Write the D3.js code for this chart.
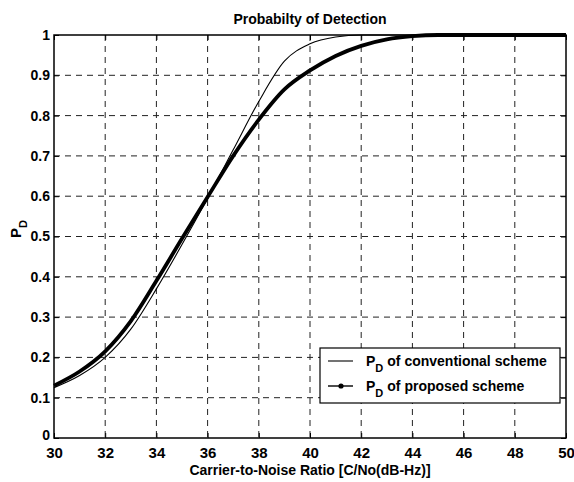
<!DOCTYPE html>
<html>
<head>
<meta charset="utf-8">
<script src="https://cdn.jsdelivr.net/npm/d3@7"></script>
<style>
  html, body { margin: 0; padding: 0; background: #fff; }
  svg { display: block; font-family: "Liberation Sans", Arial, sans-serif; }
</style>
</head>
<body>
<svg id="chart" width="574" height="482"></svg>
<script>
// Carrier-to-noise ratio samples (dB-Hz)
const cnr = [30, 31, 32, 33, 34, 35, 36, 37, 38, 39, 40, 41, 42, 43, 44, 45, 46, 47, 48, 49, 50];
// Detection probability, conventional scheme
const pdConventional = [0.125, 0.155, 0.2, 0.27, 0.37, 0.48, 0.595, 0.715, 0.835, 0.935, 0.978, 0.995, 1, 1, 1, 1, 1, 1, 1, 1, 1];
// Detection probability, proposed scheme
const pdProposed = [0.13, 0.165, 0.215, 0.29, 0.39, 0.495, 0.598, 0.7, 0.79, 0.865, 0.912, 0.948, 0.973, 0.989, 0.997, 1, 1, 1, 1, 1, 1];

const xTicks = [30, 32, 34, 36, 38, 40, 42, 44, 46, 48, 50];
const yTicks = [0, 0.1, 0.2, 0.3, 0.4, 0.5, 0.6, 0.7, 0.8, 0.9, 1];

const titleText = "Probabilty of Detection";
const xLabelText = "Carrier-to-Noise Ratio [C/No(dB-Hz)]";
const legendTexts = ["of conventional scheme", "of proposed scheme"];

(function draw() {
  const svg = d3.select("#chart");
  const pl = 54, pr = 566, pt = 35, pb = 438;
  const face = "'Liberation Sans', Arial, sans-serif";

  const x = d3.scaleLinear().domain([30, 50]).range([pl, pr]);
  const y = d3.scaleLinear().domain([0, 1]).range([pb, pt]);

  // dashed grid
  const grid = svg.append("g").attr("stroke", "#222").attr("stroke-width", 1)
    .attr("stroke-dasharray", "6,5");
  grid.selectAll("line.gx").data(xTicks.slice(1, -1)).join("line").attr("class", "gx")
    .attr("x1", d => x(d)).attr("x2", d => x(d))
    .attr("y1", pt).attr("y2", pb);
  grid.selectAll("line.gy").data(yTicks.slice(1, -1)).join("line").attr("class", "gy")
    .attr("x1", pl).attr("x2", pr)
    .attr("y1", d => y(d)).attr("y2", d => y(d));

  // axes with inward ticks
  const tickLen = 5;
  const xAxis = d3.axisBottom(x).tickValues(xTicks).tickSizeInner(-tickLen).tickSizeOuter(0).tickPadding(9).tickFormat(d3.format("d"));
  const yAxis = d3.axisLeft(y).tickValues(yTicks).tickSizeInner(-tickLen).tickSizeOuter(0).tickPadding(4).tickFormat(d => d === 0 || d === 1 ? String(d) : d3.format(".1f")(d));
  const xTop = d3.axisTop(x).tickValues(xTicks).tickSizeInner(-tickLen).tickSizeOuter(0).tickFormat("");
  const yRight = d3.axisRight(y).tickValues(yTicks).tickSizeInner(-tickLen).tickSizeOuter(0).tickFormat("");

  function styleAxis(size) {
    return g => {
      g.select(".domain").remove();
      g.selectAll("line").attr("stroke", "#000");
      g.selectAll("text").style("font", `bold ${size}px ${face}`).attr("fill", "#000");
    };
  }
  svg.append("g").attr("transform", `translate(0,${pb})`).call(xAxis).call(styleAxis(15));
  const yG = svg.append("g").attr("transform", `translate(${pl},0)`).call(yAxis).call(styleAxis(14));
  // lift the "0" label a little so it clears the first x label
  yG.selectAll(".tick").filter(d => d === 0).select("text").attr("y", -3);
  svg.append("g").attr("transform", `translate(0,${pt})`).call(xTop).call(styleAxis(14));
  svg.append("g").attr("transform", `translate(${pr},0)`).call(yRight).call(styleAxis(14));

  // curves
  const line = (vals) => d3.line().x((d, i) => x(cnr[i])).y(d => y(d)).curve(d3.curveMonotoneX)(vals);
  svg.append("path").attr("d", line(pdConventional)).attr("fill", "none")
    .attr("stroke", "#000").attr("stroke-width", 1.1);
  svg.append("path").attr("d", line(pdProposed)).attr("fill", "none")
    .attr("stroke", "#000").attr("stroke-width", 3.8).attr("stroke-linejoin", "round");

  // frame
  svg.append("rect").attr("x", pl).attr("y", pt).attr("width", pr - pl).attr("height", pb - pt)
    .attr("fill", "none").attr("stroke", "#000").attr("stroke-width", 1.5);

  // title and axis labels
  svg.append("text").attr("x", (pl + pr) / 2).attr("y", 24).attr("text-anchor", "middle")
    .style("font", `bold 14px ${face}`).text(titleText);
  svg.append("text").attr("x", (pl + pr) / 2).attr("y", 475).attr("text-anchor", "middle")
    .style("font", `bold 14px ${face}`).text(xLabelText);

  const yl = svg.append("text").attr("transform", "translate(21,238) rotate(-90)")
    .style("font", `bold 15px ${face}`);
  yl.append("tspan").text("P");
  yl.append("tspan").attr("dy", 6).style("font-size", "11px").text("D");

  // legend
  const lg = svg.append("g");
  lg.append("rect").attr("x", 320).attr("y", 348).attr("width", 240).attr("height", 55)
    .attr("fill", "#fff").attr("stroke", "#000").attr("stroke-width", 1.2);
  const rows = [361, 386];
  rows.forEach((ry, i) => {
    lg.append("line").attr("x1", 328).attr("x2", 353).attr("y1", ry).attr("y2", ry)
      .attr("stroke", "#000").attr("stroke-width", i === 0 ? 1.1 : 1.4);
    if (i === 1) lg.append("circle").attr("cx", 341).attr("cy", ry).attr("r", 2.6).attr("fill", "#000");
    const t = lg.append("text").attr("x", 366).attr("y", ry + 5)
      .style("font", `bold 14px ${face}`);
    t.append("tspan").text("P");
    t.append("tspan").attr("dy", 6).style("font-size", "11px").text("D");
    t.append("tspan").attr("dy", -6).attr("dx", 4).text(legendTexts[i]);
  });
})();
</script>
</body>
</html>
